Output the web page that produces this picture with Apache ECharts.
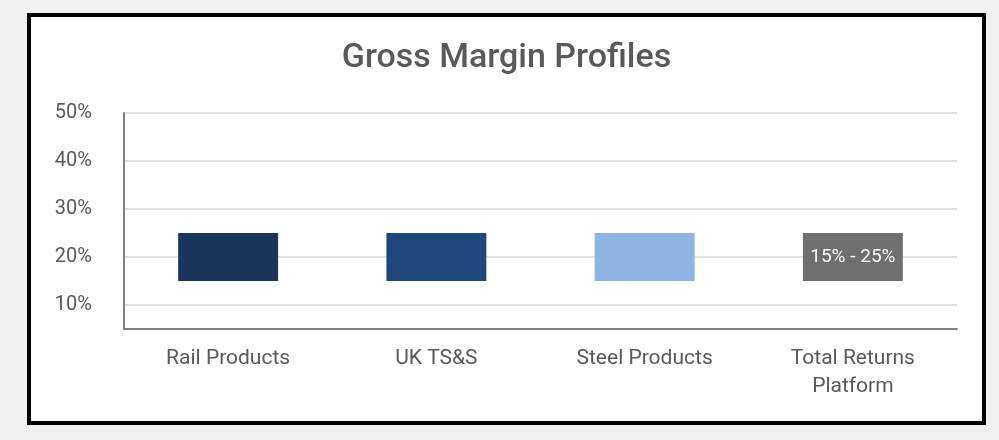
<!DOCTYPE html>
<html>
<head>
<meta charset="utf-8">
<script src="https://cdn.jsdelivr.net/npm/echarts@6/dist/echarts.min.js"></script>
<style>
  html, body { margin: 0; padding: 0; background: #f1f1f1; }
  #frame {
    position: absolute; left: 27px; top: 13px;
    width: 959px; height: 412px;
    box-sizing: border-box; border: 4px solid #000; background: #fff;
  }
  #chart { width: 951px; height: 404px; }
</style>
</head>
<body>
<div id="frame"><div id="chart"></div></div>
<script>
  // 各板块毛利率区间（%）
  var categories = ["Rail Products", "UK TS&S", "Steel Products", "Total Returns\nPlatform"];
  var lowValues = [15, 15, 15, 15];
  var highValues = [25, 25, 25, 25];
  var barColors = ["#1b365d", "#1f497d", "#8eb4e3", "#6f6f6f"];
  var rangeLabels = ["", "", "", "15% - 25%"];

  var FONT = "Roboto, sans-serif";
  var TEXT = "#595959";

  var chart = echarts.init(document.getElementById("chart"));

  var baseData = lowValues.map(function (v) { return v; });
  var spanData = highValues.map(function (h, i) {
    return {
      value: h - lowValues[i],
      itemStyle: { color: barColors[i] },
      label: { show: !!rangeLabels[i], formatter: rangeLabels[i] }
    };
  });

  chart.setOption({
    animation: false,
    title: {
      text: "Gross Margin Profiles",
      left: "center",
      top: 19,
      textStyle: { fontFamily: FONT, fontSize: 34, fontWeight: 500, color: TEXT }
    },
    grid: { left: 93, right: 25, top: 96, bottom: 92 },
    xAxis: {
      type: "category",
      data: categories,
      axisTick: { show: false },
      axisLine: { lineStyle: { color: "#808080", width: 2 } },
      axisLabel: { fontFamily: FONT, fontSize: 21, color: TEXT, margin: 16, lineHeight: 28 }
    },
    yAxis: {
      type: "value",
      min: 5,
      max: 50,
      interval: 5,
      axisLine: { show: true, lineStyle: { color: "#808080", width: 2 } },
      axisTick: { show: false },
      // 只在 10% 的整数倍处画网格线
      splitLine: { lineStyle: { color: ["transparent", "#e3e3e3"], width: 2 } },
      axisLabel: {
        fontFamily: FONT, fontSize: 20, color: TEXT, margin: 32,
        padding: [5, 0, 0, 0],
        formatter: function (v) { return v % 10 === 0 ? v + "%" : ""; }
      }
    },
    series: [
      {
        type: "bar",
        stack: "range",
        data: baseData,
        barWidth: "48%",
        itemStyle: { color: "transparent" },
        silent: true
      },
      {
        type: "bar",
        stack: "range",
        data: spanData,
        barWidth: "48%",
        label: {
          position: "inside",
          color: "#ffffff",
          fontFamily: FONT,
          fontSize: 19
        }
      }
    ]
  });
</script>
</body>
</html>
